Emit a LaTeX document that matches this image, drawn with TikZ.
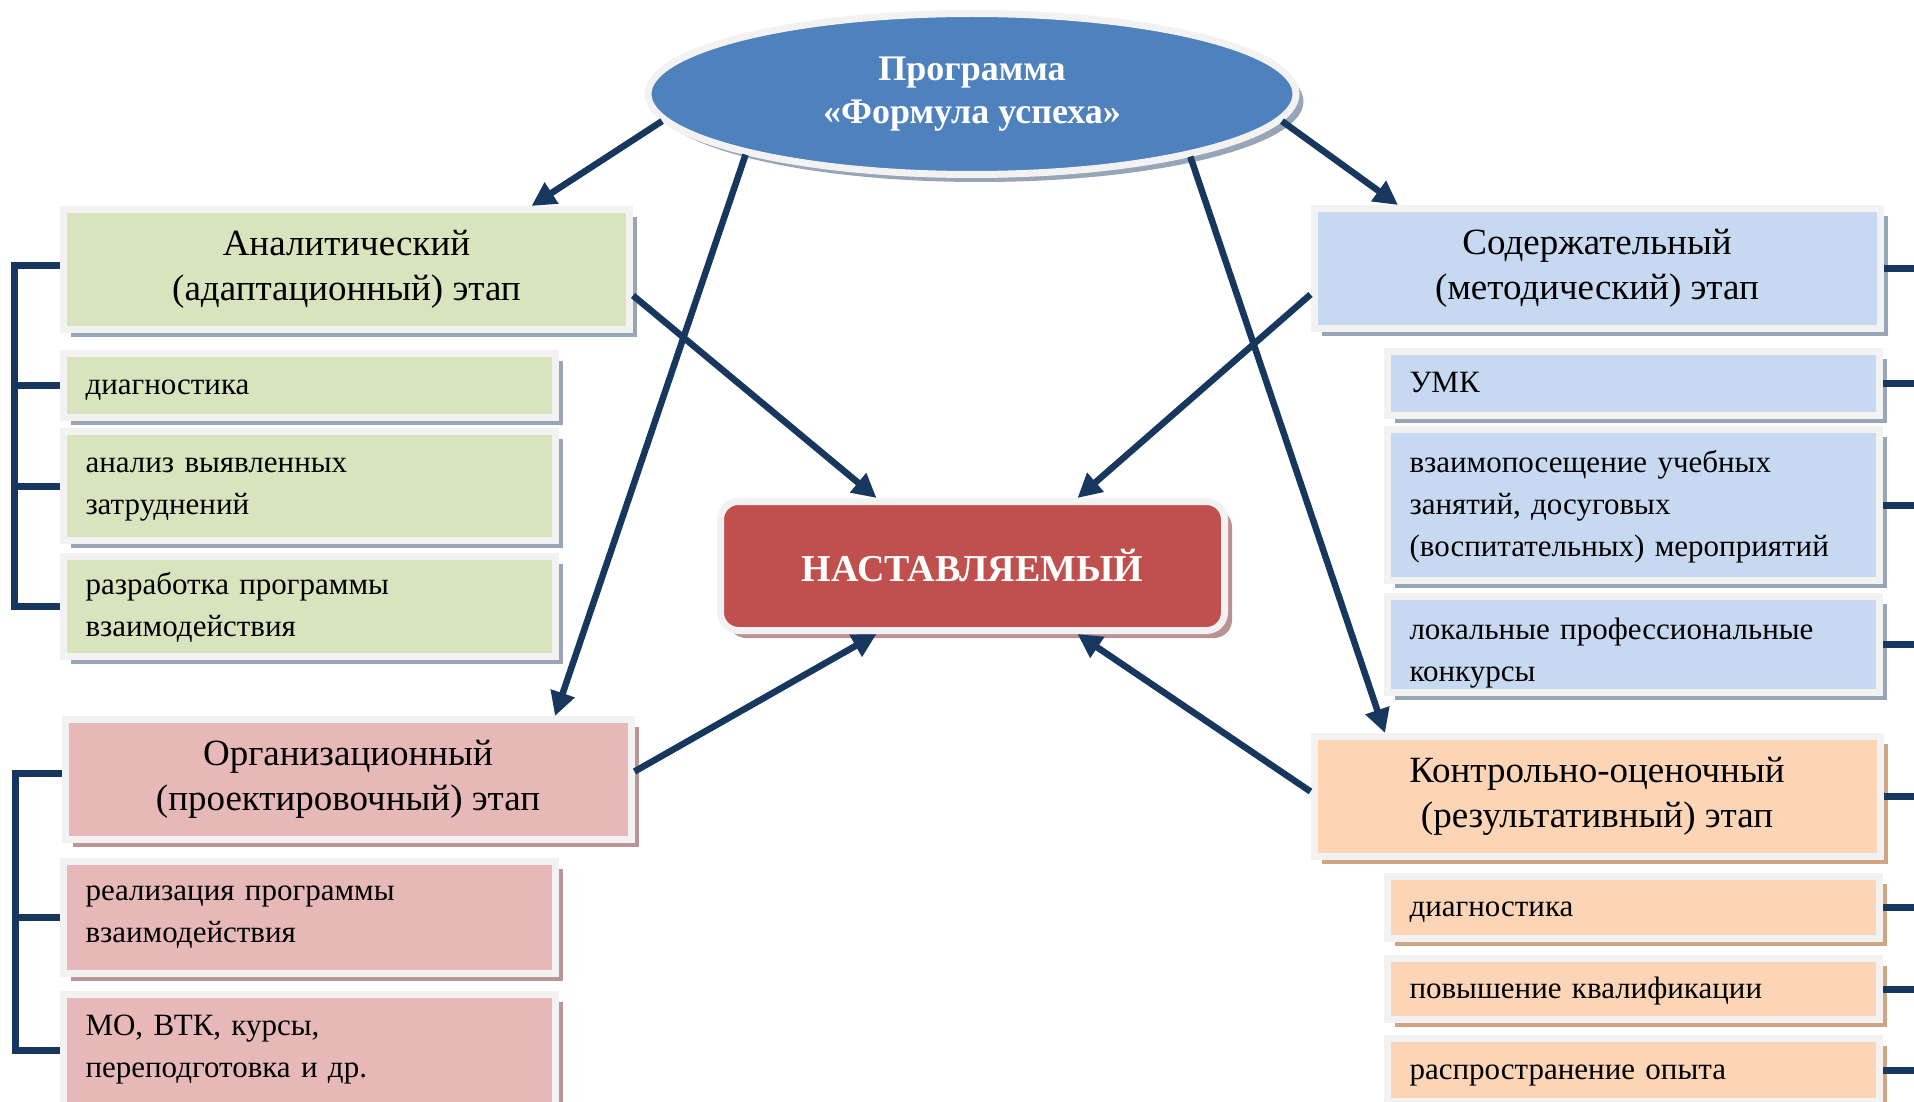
\documentclass[tikz,border=0pt]{standalone}
\usepackage{fontspec}
\setmainfont{Liberation Serif}
\usepackage{xcolor}
\usepackage{tikz}
\usetikzlibrary{shapes.geometric, arrows.meta, shadows}
\definecolor{framegray}{HTML}{F2F2F2}
\definecolor{arrownavy}{HTML}{17375E}
\definecolor{ovalblue}{HTML}{4F81BD}
\definecolor{menteered}{HTML}{C0504D}
\definecolor{stagegreen}{HTML}{D7E4BD}
\definecolor{stageblue}{HTML}{C6D9F1}
\definecolor{stagepink}{HTML}{E6B9B8}
\definecolor{stageorange}{HTML}{FBD5B5}
\definecolor{shadowgray}{HTML}{97A5B6}
\definecolor{shadowpink}{HTML}{B99596}
\definecolor{shadoworange}{HTML}{CFA583}
\definecolor{shadowred}{HTML}{B89294}

\begin{document}
\begin{tikzpicture}[x=1pt, y=-1pt,
    framed/.style={draw=framegray, line width=7pt, inner sep=0pt,
        drop shadow={shadow xshift=7.5pt, shadow yshift=-7.5pt, fill=#1, opacity=1}},
    stagebox/.style={framed=#1, align=center, font=\fontsize{37}{45}\selectfont,
        minimum width=566pt, minimum height=120pt},
    itembox/.style={framed=#1, align=left, font=\fontsize{31}{42}\selectfont,
        text width=448pt, inner xsep=22pt,
        execute at begin node={\rule{0pt}{26pt}},
        execute at end node={\rule[-8pt]{0pt}{8pt}}},
    link/.style={line width=6.5pt, arrownavy, -{Triangle[length=24pt, width=24pt]}},
    bracket/.style={line width=7pt, arrownavy}]

    \useasboundingbox (0,0) rectangle (1914,1102);
    \clip (0,0) rectangle (1914,1102);

    % Programme oval
    \node[framed=shadowgray, ellipse, fill=ovalblue, minimum width=648pt, minimum height=161pt,
        align=center, text=white, font=\fontsize{36}{43}\selectfont\bfseries]
        (prog) at (972,94) {Программа\\«Формула успеха»};

    % Mentee box
    \node[framed=shadowred, rounded corners=18pt, fill=menteered, minimum width=504pt, minimum height=129pt,
        text=white, font=\fontsize{38}{43}\selectfont\bfseries]
        (mentee) at (972.5,566) {НАСТАВЛЯЕМЫЙ};

    % Analytic stage
    \node[stagebox=shadowgray, fill=stagegreen] (anl) at (346.5,269.5) {Аналитический\\(адаптационный) этап};
    \node[itembox=shadowgray, fill=stagegreen, minimum height=64pt] (anl1) at (309.5,385.5) {диагностика};
    \node[itembox=shadowgray, fill=stagegreen, minimum height=109pt,
        execute at end node={\rule[-12pt]{0pt}{12pt}}] (anl2) at (309.5,486) {анализ выявленных\\затруднений};
    \node[itembox=shadowgray, fill=stagegreen, minimum height=100pt] (anl3) at (309.5,606.5) {разработка программы\\взаимодействия};

    % Organisational stage
    \node[stagebox=shadowpink, fill=stagepink] (org) at (348,779.5) {Организационный\\(проектировочный) этап};
    \node[itembox=shadowpink, fill=stagepink, minimum height=112pt,
        execute at end node={\rule[-18pt]{0pt}{18pt}}] (org1) at (309.5,917.5) {реализация программы\\взаимодействия};
    \node[itembox=shadowpink, fill=stagepink, minimum height=112pt,
        execute at end node={\rule[-14pt]{0pt}{14pt}}] (org2) at (309.5,1050) {МО, ВТК, курсы,\\переподготовка и др.};

    % Content stage
    \node[stagebox=shadowgray, fill=stageblue] (soder) at (1597,268.5) {Содержательный\\(методический) этап};
    \node[itembox=shadowgray, fill=stageblue, minimum height=64pt] (s1) at (1633.5,383.5) {УМК};
    \node[itembox=shadowgray, fill=stageblue, minimum height=151pt] (s2) at (1633.5,505) {взаимопосещение учебных\\занятий, досуговых\\(воспитательных) мероприятий};
    \node[itembox=shadowgray, fill=stageblue, minimum height=96pt,
        execute at begin node={\rule{0pt}{40pt}}] (s3) at (1633.5,644.5) {локальные профессиональные\\конкурсы};

    % Control stage
    \node[stagebox=shadoworange, fill=stageorange] (kontr) at (1597,796.5) {Контрольно-оценочный\\(результативный) этап};
    \node[itembox=shadoworange, fill=stageorange, minimum height=62pt] (k1) at (1633.5,907.5) {диагностика};
    \node[itembox=shadoworange, fill=stageorange, minimum height=61pt] (k2) at (1633.5,989) {повышение квалификации};
    \node[itembox=shadoworange, fill=stageorange, minimum height=63pt] (k3) at (1633.5,1070) {распространение опыта};

    % Arrows from the oval
    \draw[link] (prog.185) -- ([xshift=185pt]anl.north);
    \draw[link] (prog.195) -- ([xshift=207pt]org.north);
    \draw[link] (prog.355) -- ([xshift=-199pt]soder.north);
    \draw[link] (prog.344) -- ([xshift=-212pt]kontr.north);

    % Arrows to the mentee
    \draw[link] ([yshift=-26pt]anl.east) -- ([xshift=-96pt]mentee.north);
    \draw[link] ([yshift=-26pt]soder.west) -- ([xshift=105pt]mentee.north);
    \draw[link] ([yshift=8pt]org.east) -- ([xshift=-96pt]mentee.south);
    \draw[link] ([yshift=5pt]kontr.west) -- ([xshift=105pt]mentee.south);

    % Left brackets
    \draw[bracket] ([yshift=4pt]anl.west) -- ++(-46,0) |- (anl3.west);
    \foreach \n in {anl1, anl2} \draw[bracket] (\n.west) -- ++(-46,0);
    \draw[bracket] ([yshift=6pt]org.west) -- ++(-46,0) |- (org2.west);
    \draw[bracket] (org1.west) -- ++(-46,0);

    % Right brackets
    \foreach \n in {soder, s1, s2, s3, kontr, k1, k2, k3} \draw[bracket] (\n.east) -- ++(40,0);
\end{tikzpicture}
\end{document}
